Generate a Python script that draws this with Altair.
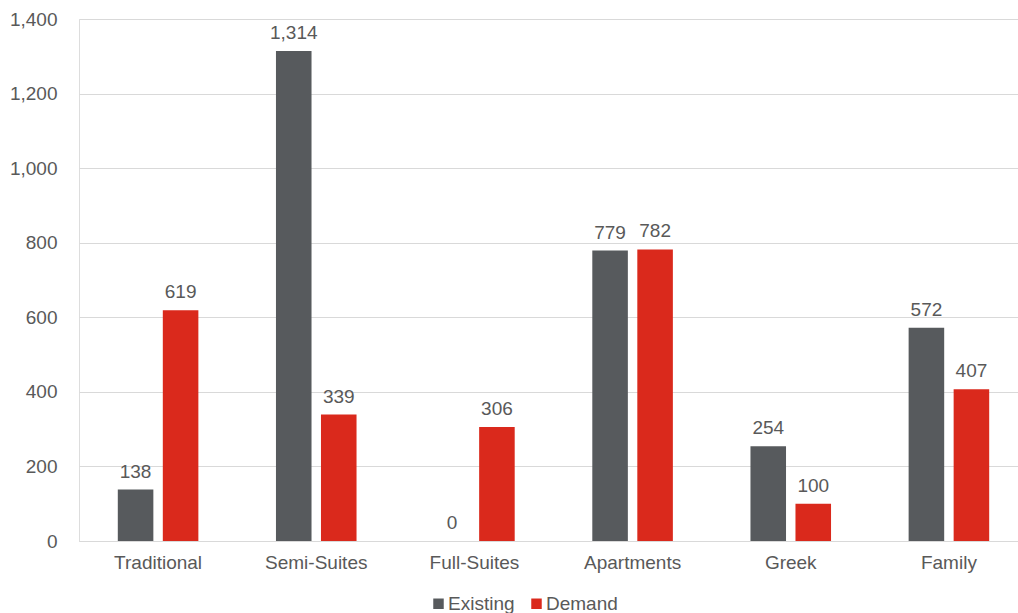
import altair as alt
import pandas as pd

categories = ["Traditional", "Semi-Suites", "Full-Suites", "Apartments", "Greek", "Family"]
existing = [138, 1314, 0, 779, 254, 572]
demand = [619, 339, 306, 782, 100, 407]
series = ["Existing", "Demand"]
colors = ["#575A5D", "#DA291C"]

rows = []
for c, e, d in zip(categories, existing, demand):
    rows.append({"Category": c, "Series": "Existing", "Value": e})
    rows.append({"Category": c, "Series": "Demand", "Value": d})
df = pd.DataFrame(rows)

FONT = "Liberation Sans"
TXT = "#595959"
FS = 19

x = alt.X("Category:N", sort=categories, title=None,
          scale=alt.Scale(paddingInner=0, paddingOuter=0, range=[0, 949]),
          axis=alt.Axis(labelAngle=0, labelFontSize=FS, labelColor=TXT, labelFont=FONT,
                        ticks=False, domainColor="#D9D9D9", labelPadding=12))
xo = alt.XOffset("Series:N", sort=series,
                 scale=alt.Scale(paddingInner=0.21, paddingOuter=0.862))
y = alt.Y("Value:Q", title=None,
          scale=alt.Scale(domain=[0, 1400]),
          axis=alt.Axis(values=list(range(0, 1401, 200)), format=",.0f", labelFontSize=FS,
                        labelColor=TXT, labelFont=FONT, ticks=False, domain=False,
                        gridColor="#D9D9D9", labelPadding=22))

base = alt.Chart(df)
bars = base.mark_bar().encode(
    x=x, xOffset=xo, y=y,
    color=alt.Color("Series:N", sort=series,
                    scale=alt.Scale(domain=series, range=colors),
                    legend=alt.Legend(title=None, orient="none", direction="horizontal",
                                      legendX=350, legendY=575,
                                      labelFontSize=FS, labelColor=TXT, labelFont=FONT,
                                      symbolType="square", symbolSize=110,
                                      symbolStrokeWidth=0, columnPadding=12,
                                      labelOffset=0)),
)
labels = base.mark_text(dy=-8, baseline="bottom", fontSize=FS, font=FONT, color=TXT).encode(
    x=x, xOffset=xo, y=y, text=alt.Text("Value:Q", format=",.0f"),
)

chart = (bars + labels).properties(
    width=939, height=522,
    autosize=alt.AutoSizeParams(type="none"),
    padding={"left": 79, "top": 19, "right": 0, "bottom": 72},
).configure_view(stroke=None).configure(background="white")

chart.save("out.html", embed_options={"renderer": "svg", "actions": False})
